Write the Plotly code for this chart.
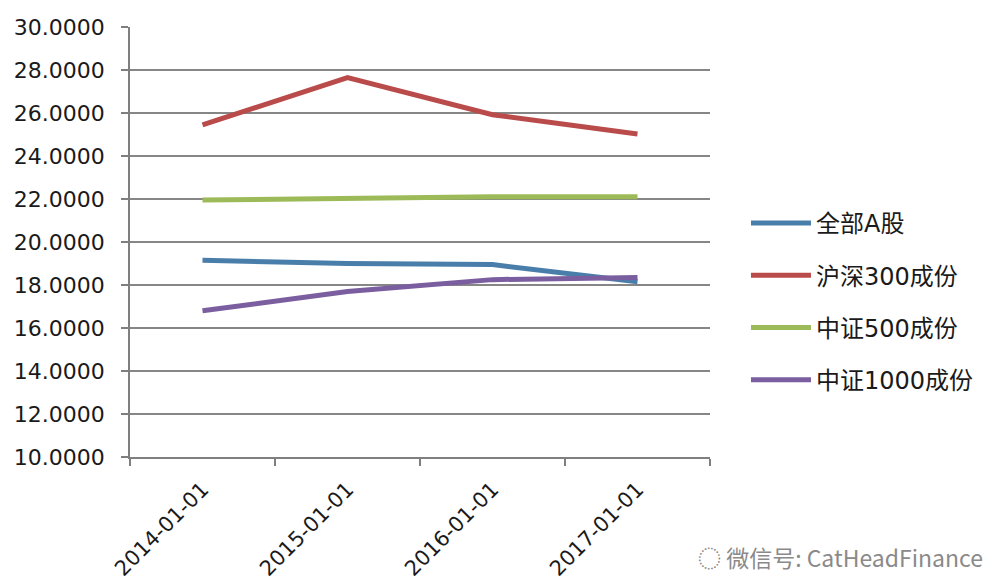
import plotly.graph_objects as go

categories = ["2014-01-01", "2015-01-01", "2016-01-01", "2017-01-01"]
series_names = ["全部A股", "沪深300成份", "中证500成份", "中证1000成份"]
all_a = [19.15, 19.00, 18.95, 18.15]
hs300 = [25.45, 27.65, 25.92, 25.02]
zz500 = [21.95, 22.05, 22.10, 22.10]
zz1000 = [16.80, 17.70, 18.25, 18.35]
y_ticks = [10, 12, 14, 16, 18, 20, 22, 24, 26, 28, 30]
y_ticklabels = ["%.4f" % v for v in y_ticks]

colors = ["#4A7EAA", "#B94C4B", "#9CBA58", "#7B5E9F"]
values = [all_a, hs300, zz500, zz1000]

FONT = "DejaVu Sans, Noto Sans CJK SC, sans-serif"

fig = go.Figure()
for i, (name, vals, col) in enumerate(zip(series_names, values, colors)):
    fig.add_trace(go.Scatter(
        x=categories, y=vals, name=name, mode="lines",
        legendgroup="g%d" % i,
        line=dict(color=col, width=5),
    ))

fig.update_layout(
    width=987, height=585,
    margin=dict(l=130, r=277, t=27, b=128),
    paper_bgcolor="white", plot_bgcolor="white",
    font=dict(family=FONT, color="#1a1a1a"),
    showlegend=True,
    legend=dict(
        xref="container", yref="container",
        x=0.7558, y=0.6564, xanchor="left", yanchor="top",
        font=dict(size=24, family=FONT, color="#1a1a1a"),
        itemwidth=60, tracegroupgap=18, traceorder="grouped",
        bgcolor="rgba(0,0,0,0)",
    ),
    xaxis=dict(
        type="category", tickson="boundaries", automargin=False,
        showgrid=False, showline=True, linecolor="#7f7f7f", linewidth=1.5,
        ticks="outside", ticklen=7, tickcolor="#7f7f7f", tickwidth=1.5,
        tickangle=-45, tickfont=dict(size=21, family=FONT, color="#1a1a1a"),
        ticklabelstandoff=10,
        range=[-0.5, 3.5], zeroline=False,
    ),
    yaxis=dict(
        range=[10, 30], tickvals=y_ticks, ticktext=y_ticklabels,
        automargin=False,
        showgrid=True, gridcolor="#868686", gridwidth=1.5,
        showline=True, linecolor="#7f7f7f", linewidth=1.5,
        ticks="outside", ticklen=7, tickcolor="#7f7f7f", tickwidth=1.5,
        tickfont=dict(size=22, family=FONT, color="#1a1a1a"),
        ticklabelstandoff=12, zeroline=False,
    ),
)

fig.add_annotation(
    xref="paper", yref="paper", x=1.474, y=-0.232,
    xanchor="right", yanchor="middle", showarrow=False,
    text="◌ 微信号: CatHeadFinance",
    font=dict(size=23, family="Noto Sans CJK SC, DejaVu Sans", color="#8a8a8a"),
)

fig.write_html("out.html")
